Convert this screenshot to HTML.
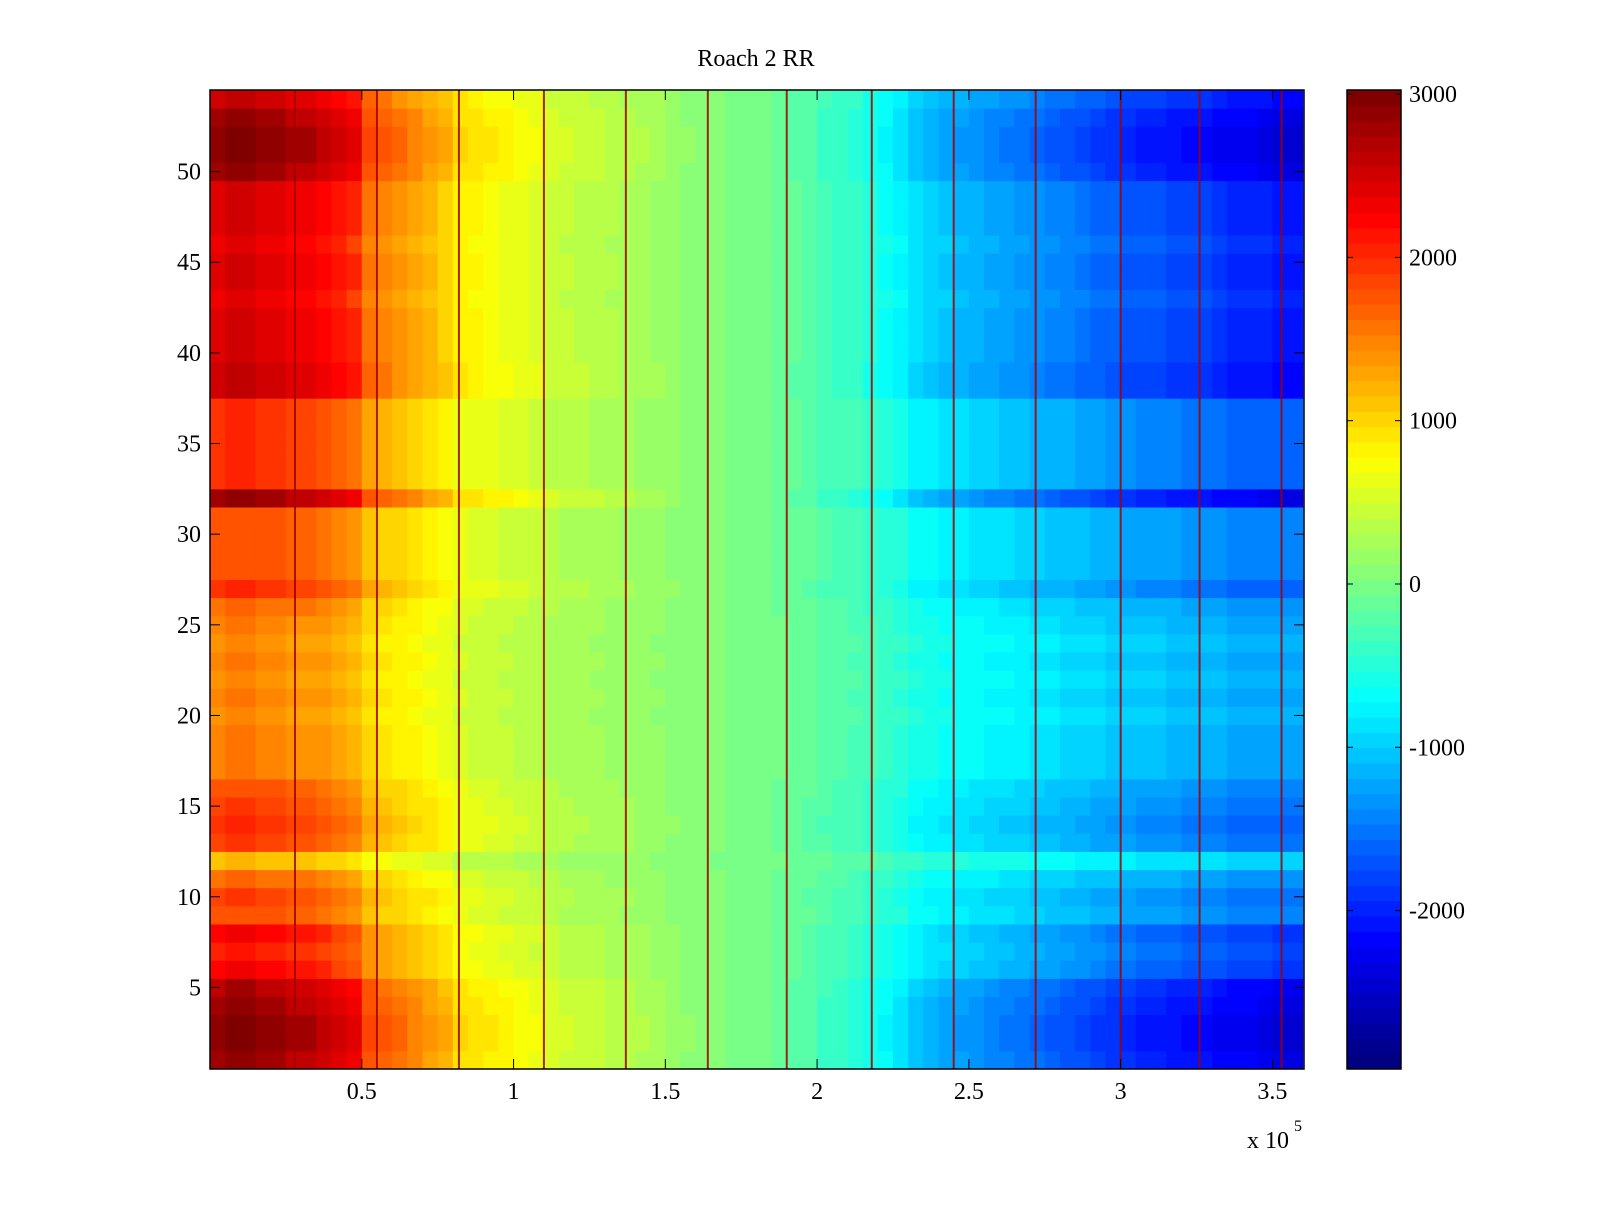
<!DOCTYPE html>
<html><head><meta charset="utf-8"><style>
body{margin:0;background:#fff;}
svg text{font-family:"Liberation Serif",serif;font-size:24px;fill:#000;}
</style></head><body>
<svg id="chart" width="1600" height="1200" viewBox="0 0 1600 1200" xmlns="http://www.w3.org/2000/svg">
<rect width="1600" height="1200" fill="#fff"/>
<text x="756" y="66" text-anchor="middle">Roach 2 RR</text>
<g id="cells"></g>
<g id="spikes"></g>
<rect x="210" y="90" width="1094" height="979" fill="none" stroke="#000" stroke-width="1.5"/>
<g id="axes"></g>
<g id="cbar"></g>
<text x="1247" y="1148">x 10</text>
<text x="1294" y="1131" style="font-size:16px">5</text>
</svg>
<script>
const colMean=[2300,2400,2400,2300,2300,2200,2200,2100,2000,1900,1500,1400,1300,1200,1100,1000,800,750,700,650,600,550,450,400,380,350,300,280,250,200,150,100,80,50,0,-20,-50,-100,-150,-200,-300,-350,-400,-500,-600,-700,-850,-950,-1000,-1050,-1100,-1150,-1200,-1250,-1300,-1350,-1400,-1450,-1500,-1550,-1600,-1650,-1650,-1700,-1750,-1750,-1800,-1850,-1850,-1900,-1950,-1950];
const rowScale=[1.2,1.25,1.25,1.2,1.15,0.95,0.9,0.95,0.75,0.8,0.7,0.5,0.8,0.85,0.8,0.75,0.65,0.65,0.65,0.6,0.65,0.6,0.65,0.6,0.65,0.7,0.85,0.75,0.75,0.75,0.75,1.2,0.85,0.85,0.85,0.85,0.85,1.1,1.1,1.05,1.05,1.05,1.0,1.05,1.05,1.0,1.05,1.05,1.05,1.2,1.25,1.25,1.2,1.1];
const spikeX=[28000,55000,82000,110000,137000,164000,190000,218000,245000,272000,300000,326000,353000];
const xTicks=[0.5,1,1.5,2,2.5,3,3.5];
const yTicks=[5,10,15,20,25,30,35,40,45,50];
const cbTicks=[3000,2000,1000,0,-1000,-2000];
const binW=5000, xMax=360400, cMin=-2970, cMax=3025;
const PX0=210,PX1=1304,PY0=90,PY1=1069,CB0=1347,CBW=54;
const NS="http://www.w3.org/2000/svg";
const xs=v=>PX0+(v/xMax)*(PX1-PX0);
const ys=v=>PY1-((v-0.5)/54)*(PY1-PY0);
const cs=v=>PY1-((v-cMin)/(cMax-cMin))*(PY1-PY0);
function jet(t){t=Math.max(0,Math.min(1,t));t=Math.floor(t*63.999)/63;
 const f=x=>Math.max(0,Math.min(1,1.5-Math.abs(4*t-x)));
 return `rgb(${Math.round(255*f(3))},${Math.round(255*f(2))},${Math.round(255*f(1))})`;}
const col=v=>jet((v-cMin)/(cMax-cMin));
function mk(tag,attrs,parent){const e=document.createElementNS(NS,tag);for(const k in attrs)e.setAttribute(k,attrs[k]);parent.appendChild(e);return e;}
const cells=document.getElementById('cells');
for(let r=0;r<rowScale.length;r++){for(let c=0;c<colMean.length;c++){
 const x0=xs(c*binW),x1=Math.min(xs((c+1)*binW),PX1),y0=ys(r+1.5),y1=ys(r+0.5);
 const e=mk('rect',{x:x0,y:y0,width:Math.min(x1-x0+0.5,PX1-x0),height:y1-y0+0.5,fill:col(colMean[c]*rowScale[r])},cells);
 
 }}
const sp=document.getElementById('spikes');
spikeX.forEach(v=>{const e=mk('line',{x1:xs(v),x2:xs(v),y1:PY0,y2:PY1,stroke:'#a00000','stroke-width':2,opacity:0.85},sp);
 
 });
const ax=document.getElementById('axes');
xTicks.forEach(v=>{const x=xs(v*1e5);
 mk('line',{x1:x,x2:x,y1:PY1,y2:PY1-10,stroke:'#000'},ax);mk('line',{x1:x,x2:x,y1:PY0,y2:PY0+10,stroke:'#000'},ax);
 const t=mk('text',{x:x,y:1099,'text-anchor':'middle'},ax);t.textContent=v;
 
 });
yTicks.forEach(v=>{const y=ys(v);
 mk('line',{x1:PX0,x2:PX0+10,y1:y,y2:y,stroke:'#000'},ax);mk('line',{x1:PX1,x2:PX1-10,y1:y,y2:y,stroke:'#000'},ax);
 const t=mk('text',{x:201,y:y+8,'text-anchor':'end'},ax);t.textContent=v;
 
 });
const cb=document.getElementById('cbar');
for(let i=0;i<64;i++){const v0=cMin+(cMax-cMin)*i/64,v1=cMin+(cMax-cMin)*(i+1)/64;
 const e=mk('rect',{x:CB0,y:cs(v1),width:CBW,height:cs(v0)-cs(v1)+0.5,fill:col((v0+v1)/2)},cb);
 
 }
mk('rect',{x:CB0,y:PY0,width:CBW,height:PY1-PY0,fill:'none',stroke:'#000','stroke-width':1.5},cb);
cbTicks.forEach(v=>{const y=cs(v);
 mk('line',{x1:CB0,x2:CB0+6,y1:y,y2:y,stroke:'#000'},cb);mk('line',{x1:CB0+CBW,x2:CB0+CBW-6,y1:y,y2:y,stroke:'#000'},cb);
 const t=mk('text',{x:CB0+CBW+8,y:y+8},cb);t.textContent=v;
 
 });
</script>
</body></html>
